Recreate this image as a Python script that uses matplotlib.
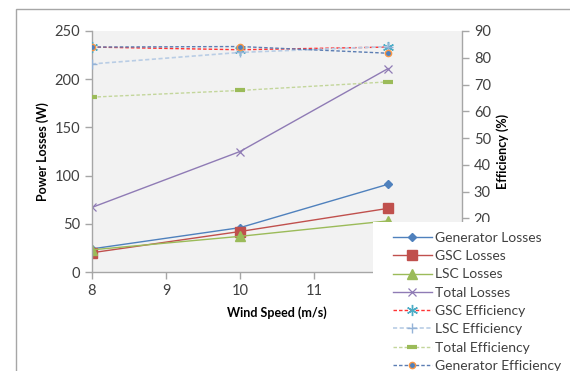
import matplotlib
matplotlib.use("Agg")
import matplotlib.pyplot as plt
from matplotlib.patches import Rectangle

plt.rcParams['font.family'] = ['Lato', 'DejaVu Sans']

wind = [8, 10, 12]
gen_loss = [24, 46, 91]
gsc_loss = [20, 42, 66]
lsc_loss = [23, 37, 53]
tot_loss = [67, 125, 211]

gsc_eff = [84.0, 83.0, 84.0]
lsc_eff = [77.7, 82.0, 84.2]
tot_eff = [65.3, 67.8, 71.0]
gen_eff = [84.0, 84.2, 81.7]

x_ticks = [8, 9, 10, 11, 12, 13]
x_labels = ['8', '9', '10', '11', '', '']   # 12 and 13 lie under the legend
left_ticks = [0, 50, 100, 150, 200, 250]
right_ticks = [0, 10, 20, 30, 40, 50, 60, 70, 80, 90]
right_labels = ['', '', '20', '30', '40', '50', '60', '70', '80', '90']  # 0 and 10 under legend

W, H = 570, 371
fig = plt.figure(figsize=(W/100, H/100), dpi=100)
fig.patch.set_facecolor('white')
fig.patches.append(Rectangle((16/W, -0.1), 1.2, (H-9)/H + 0.1, transform=fig.transFigure,
                             fill=False, edgecolor='#a6a6a6', linewidth=1.0))

ax = fig.add_axes([92/W, (H-272)/H, (462-92)/W, (272-31)/H])
ax.set_facecolor('#f2f2f2')
ax2 = ax.twinx()

tc = '#404040'
sc = '#a6a6a6'

l1, = ax.plot(wind, gen_loss, color='#4f81bd', lw=1.0, marker='D', ms=4.5, mfc='#4f81bd', mec='#4f81bd', label='Generator Losses')
l2, = ax.plot(wind, gsc_loss, color='#c0504d', lw=1.0, marker='s', ms=6.5, mfc='#c0504d', mec='#c0504d', label='GSC Losses')
l3, = ax.plot(wind, lsc_loss, color='#9bbb59', lw=1.0, marker='^', ms=6.5, mfc='#9bbb59', mec='#9bbb59', label='LSC Losses')
l4, = ax.plot(wind, tot_loss, color='#8f7bb5', lw=1.0, marker='x', ms=6, mew=0.9, label='Total Losses')

l5, = ax2.plot(wind, gsc_eff, color='#ff3333', lw=1.0, ls=(0, (2.5, 1.5)), marker=(6, 2, 0), ms=8, mec='#4bacc6', mew=1.0, label='GSC Efficiency')
l6, = ax2.plot(wind, lsc_eff, color='#b9cde5', lw=1.2, ls=(0, (2.5, 1.5)), marker='+', ms=7, mec='#95b3d7', mew=1.0, label='LSC Efficiency')
l7, = ax2.plot(wind, tot_eff, color='#c3d69b', lw=1.0, ls=(0, (2.5, 1.5)), marker='_', ms=7, mec='#9bbb59', mew=3, label='Total Efficiency')
l8, = ax2.plot(wind, gen_eff, color='#5b7db3', lw=1.0, ls=(0, (2.5, 1.5)), marker='o', ms=4.5, mfc='#4f81bd', mec='#f79646', mew=1.0, label='Generator Efficiency')

ax.set_xlim(8, 13)
ax.set_ylim(0, 250)
ax2.set_ylim(0, 90)
ax.set_xticks(x_ticks)
ax.set_xticklabels(x_labels)
ax.set_yticks(left_ticks)
ax2.set_yticks(right_ticks)
ax2.set_yticklabels(right_labels)

for a in (ax, ax2):
    for s in a.spines.values():
        s.set_visible(False)
ax.spines['left'].set_visible(True)
ax.spines['bottom'].set_visible(True)
ax2.spines['right'].set_visible(True)
for s in [ax.spines['left'], ax.spines['bottom'], ax2.spines['right']]:
    s.set_color(sc)
    s.set_linewidth(1.0)

ax.tick_params(axis='both', colors=sc, labelcolor=tc, labelsize=10.5, length=5, width=1.0, direction='out')
ax2.tick_params(axis='y', colors=sc, labelcolor=tc, labelsize=10.5, length=5, width=1.0, direction='out')

ax.set_xlabel('Wind Speed (m/s)', fontsize=9, fontweight='bold', color='black', labelpad=6)
ax.set_ylabel('Power Losses (W)', fontsize=9, fontweight='bold', color='black', labelpad=4)
ax2.set_ylabel('Efficiency (%)', fontsize=9, fontweight='bold', color='black', labelpad=4)

# white legend background box
bg = Rectangle((373/W, -0.1), 1.0, (H-222)/H + 0.1, transform=fig.transFigure,
               facecolor='white', edgecolor='none', zorder=5)
fig.add_artist(bg)

handles = [l1, l2, l3, l4, l5, l6, l7, l8]
leg = fig.legend(handles=handles, labels=[h.get_label() for h in handles],
                 loc='upper left', bbox_to_anchor=(393/W, (H-232)/H),
                 fontsize=10, frameon=False, handlelength=2.8,
                 labelspacing=0.45, borderpad=0, handletextpad=0.2,
                 labelcolor=tc, borderaxespad=0)
leg.set_zorder(10)

fig.savefig('out.png', dpi=100, facecolor='white')
